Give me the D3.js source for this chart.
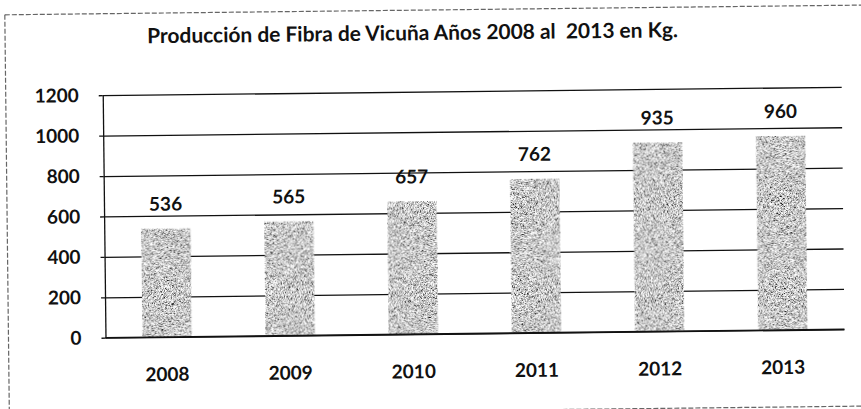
<!DOCTYPE html>
<html>
<head>
<meta charset="UTF-8">
<title>Producción de Fibra de Vicuña</title>
<script src="https://cdn.jsdelivr.net/npm/d3@7"></script>
<style>
  body { margin: 0; background: #fff; }
  text { font-family: Lato, "Open Sans", sans-serif; fill: #111; }
</style>
</head>
<body>
<div id="chart"></div>
<script>
// data
var years = ["2008", "2009", "2010", "2011", "2012", "2013"];
var production = [536, 565, 657, 762, 935, 960];
var yTicks = [0, 200, 400, 600, 800, 1000, 1200];
var titleText = "Producción de Fibra de Vicuña Años 2008 al  2013 en Kg.";

var W = 861, H = 409;
var plotLeft = 104, plotRight = 843, plotTop = 91.5, plotBottom = 334;

var svg = d3.select("#chart").append("svg")
    .attr("width", W)
    .attr("height", H);

svg.append("rect").attr("width", W).attr("height", H).attr("fill", "#fff");

// grainy grey like the photocopied bars
var defs = svg.append("defs");
var f = defs.append("filter").attr("id", "grain")
    .attr("x", 0).attr("y", 0).attr("width", "100%").attr("height", "100%");
f.append("feTurbulence")
    .attr("type", "fractalNoise")
    .attr("baseFrequency", 1.7)
    .attr("numOctaves", 2)
    .attr("seed", 4)
    .attr("result", "noise");
f.append("feColorMatrix").attr("in", "noise").attr("type", "matrix")
    .attr("values", "0.33 0.33 0.33 0 0  0.33 0.33 0.33 0 0  0.33 0.33 0.33 0 0  0 0 0 0 1")
    .attr("result", "grey");
var ct = f.append("feComponentTransfer").attr("in", "grey").attr("result", "contrast");
["feFuncR", "feFuncG", "feFuncB"].forEach(function(n) {
  ct.append(n).attr("type", "linear").attr("slope", 4.2).attr("intercept", -1.5);
});
f.append("feComposite").attr("in", "contrast").attr("in2", "SourceGraphic").attr("operator", "in");

// the scan is a little tilted
var g = svg.append("g").attr("transform", "rotate(-0.65 430 205)");

// dotted frame of the pasted chart
var frame = g.append("g")
    .attr("fill", "none")
    .attr("stroke", "#666")
    .attr("stroke-width", 1.2)
    .attr("stroke-dasharray", "5 2");
frame.append("line").attr("x1", 7).attr("y1", 10).attr("x2", 880).attr("y2", 10);
frame.append("line").attr("x1", 7).attr("y1", 10).attr("x2", 7).attr("y2", 411);
frame.append("line").attr("x1", 7).attr("y1", 411).attr("x2", 880).attr("y2", 411);

var x = d3.scaleBand()
    .domain(years)
    .range([plotLeft, plotRight])
    .paddingInner(0.6)
    .paddingOuter(0.3);

var y = d3.scaleLinear()
    .domain([0, 1200])
    .range([plotBottom, plotTop]);

// y axis with full width gridlines
var yAxis = g.append("g")
    .attr("transform", "translate(" + plotLeft + ",0)")
    .call(d3.axisLeft(y)
      .tickValues(yTicks)
      .tickFormat(d3.format("d"))
      .tickSizeInner(-(plotRight - plotLeft))
      .tickSizeOuter(0)
      .tickPadding(24));
yAxis.select(".domain").attr("stroke", "#111").attr("stroke-width", 1.3);
yAxis.selectAll(".tick line").attr("stroke", "#111").attr("stroke-width", 1.3);
yAxis.selectAll(".tick").append("line")
    .attr("x1", -4).attr("x2", 0)
    .attr("stroke", "#111").attr("stroke-width", 1.3);
yAxis.selectAll(".tick text")
    .style("font-size", "19px")
    .style("font-weight", 700)
    .attr("fill", "#111");

// bars
g.append("g").selectAll("rect")
    .data(production)
    .join("rect")
    .attr("x", function(d, i) { return x(years[i]); })
    .attr("y", function(d) { return y(d); })
    .attr("width", x.bandwidth())
    .attr("height", function(d) { return y(0) - y(d); })
    .attr("fill", "#999")
    .attr("filter", "url(#grain)");

// zero line drawn again over the bar feet
g.append("line")
    .attr("x1", plotLeft).attr("x2", plotRight)
    .attr("y1", y(0)).attr("y2", y(0))
    .attr("stroke", "#111").attr("stroke-width", 1.6);

// value labels
g.append("g").selectAll("text")
    .data(production)
    .join("text")
    .attr("x", function(d, i) { return x(years[i]) + x.bandwidth() / 2; })
    .attr("y", function(d) { return y(d) - 18; })
    .attr("text-anchor", "middle")
    .style("font-size", "19px")
    .style("font-weight", 700)
    .text(function(d) { return d; });

// year labels
var xAxis = g.append("g")
    .attr("transform", "translate(0," + plotBottom + ")")
    .call(d3.axisBottom(x).tickSize(0).tickPadding(30.5));
xAxis.select(".domain").remove();
xAxis.selectAll(".tick text")
    .style("font-size", "19px")
    .style("font-weight", 700)
    .attr("fill", "#111");

// title, fitted to the width it has in the scan
var title = g.append("text")
    .attr("x", 414.5)
    .attr("y", 40)
    .attr("text-anchor", "middle")
    .style("white-space", "pre")
    .style("font-size", "19px")
    .style("font-weight", 700)
    .text(titleText);
var tw = title.node().getComputedTextLength();
title.style("font-size", (19 * 531 / tw).toFixed(2) + "px");
</script>
</body>
</html>
